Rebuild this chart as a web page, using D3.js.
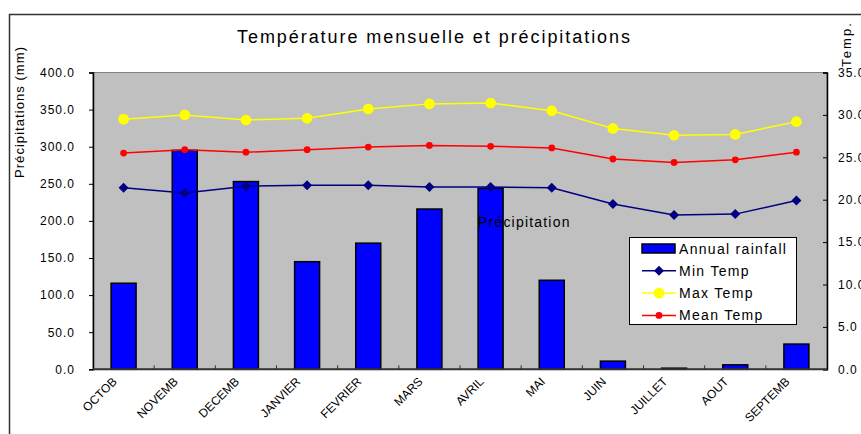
<!DOCTYPE html>
<html>
<head>
<meta charset="utf-8">
<title>Température mensuelle et précipitations</title>
<script src="https://d3js.org/d3.v7.min.js"></script>
<style>
  body { margin: 0; background: #fff; }
  svg { display: block; font-family: Arial, "Liberation Sans", sans-serif; }
</style>
</head>
<body>
<script>
// chart data
const months = ["OCTOB", "NOVEMB", "DECEMB", "JANVIER", "FEVRIER", "MARS",
                "AVRIL", "MAI", "JUIN", "JUILLET", "AOUT", "SEPTEMB"];
const rainfall = [116, 295, 253, 145, 170, 216, 244, 120, 11, 1.5, 6, 34];
const minTemp  = [21.4, 20.8, 21.6, 21.7, 21.7, 21.5, 21.5, 21.4, 19.5, 18.2, 18.3, 19.9];
const maxTemp  = [29.5, 30.0, 29.4, 29.6, 30.7, 31.3, 31.4, 30.5, 28.4, 27.6, 27.7, 29.2];
const meanTemp = [25.5, 25.9, 25.6, 25.9, 26.2, 26.4, 26.3, 26.1, 24.8, 24.4, 24.7, 25.6];
const rainTicks = [0, 50, 100, 150, 200, 250, 300, 350, 400];
const tempTicks = [0, 5, 10, 15, 20, 25, 30, 35];

const w = 861, h = 434;
const plotL = 93, plotR = 827, plotT = 72.5, plotB = 369.3;

const svg = d3.select("body").append("svg")
    .attr("width", w).attr("height", h);

// outer frame
svg.append("rect")
    .attr("x", 9.5).attr("y", 14.5)
    .attr("width", 1000).attr("height", 600)
    .attr("fill", "none").attr("stroke", "#333").attr("stroke-width", 1.5);

const x = d3.scaleBand().domain(months).range([plotL, plotR]);
const yRain = d3.scaleLinear().domain([0, 400]).range([plotB, plotT]);
const yTemp = d3.scaleLinear().domain([0, 35]).range([plotB, plotT]);

// plot area
svg.append("rect")
    .attr("x", plotL).attr("y", plotT)
    .attr("width", plotR - plotL).attr("height", plotB - plotT)
    .attr("fill", "#c0c0c0").attr("stroke", "#808080");

// left axis
const yAxisL = d3.axisLeft(yRain).tickValues(rainTicks)
    .tickSize(4).tickPadding(14).tickFormat(d3.format(".1f"));
svg.append("g").attr("transform", `translate(${plotL},0)`).call(yAxisL)
    .call(g => g.select(".domain").attr("stroke", "#000").attr("stroke-width", 1.5))
    .call(g => g.selectAll("text").attr("font-size", 12).attr("letter-spacing", 1)
        .attr("fill", "#000").attr("font-family", "Arial, 'Liberation Sans', sans-serif"));

// right axis, ticks pointing inward
const yAxisR = d3.axisRight(yTemp).tickValues(tempTicks)
    .tickSize(-4).tickPadding(11).tickFormat(d3.format(".1f"));
svg.append("g").attr("transform", `translate(${plotR},0)`).call(yAxisR)
    .call(g => g.select(".domain").attr("stroke", "#000").attr("stroke-width", 1.5))
    .call(g => g.selectAll("text").attr("font-size", 12).attr("letter-spacing", 1)
        .attr("fill", "#000").attr("font-family", "Arial, 'Liberation Sans', sans-serif"));

// bars
const bw = 25;
svg.selectAll(".bar")
    .data(rainfall)
    .enter().append("rect")
    .attr("class", "bar")
    .attr("x", (d, i) => x(months[i]) + x.bandwidth() / 2 - bw / 2)
    .attr("y", d => yRain(d))
    .attr("width", bw)
    .attr("height", d => plotB - yRain(d))
    .attr("fill", "#0000ff")
    .attr("stroke", "#000").attr("stroke-width", 1.5);

// x axis with inward ticks at band edges
const xg = svg.append("g");
xg.append("line")
    .attr("x1", plotL).attr("x2", plotR).attr("y1", plotB).attr("y2", plotB)
    .attr("stroke", "#333").attr("stroke-width", 2);
xg.selectAll(".xt")
    .data(months.slice(1))
    .enter().append("line")
    .attr("x1", d => x(d)).attr("x2", d => x(d))
    .attr("y1", plotB).attr("y2", plotB - 4)
    .attr("stroke", "#333");
xg.selectAll(".xl")
    .data(months)
    .enter().append("text")
    .attr("transform", d => `translate(${x(d) + x.bandwidth() / 2 - 6},${plotB + 13}) rotate(-45)`)
    .attr("text-anchor", "end")
    .attr("font-size", 12)
    .text(d => d);

// temperature lines
const cx = i => x(months[i]) + x.bandwidth() / 2;
const line = d3.line().x((d, i) => cx(i)).y(d => yTemp(d));

function drawSeries(data, color, shape, size, rot) {
    svg.append("path").datum(data)
        .attr("d", line).attr("fill", "none")
        .attr("stroke", color).attr("stroke-width", 1.5);
    svg.selectAll(null).data(data).enter().append("path")
        .attr("transform", (d, i) => `translate(${cx(i)},${yTemp(d)}) rotate(${rot})`)
        .attr("d", d3.symbol().type(shape).size(size))
        .attr("fill", color);
}
drawSeries(maxTemp, "#ffff00", d3.symbolCircle, 90, 0);
drawSeries(meanTemp, "#ff0000", d3.symbolCircle, 36, 0);
drawSeries(minTemp, "#000080", d3.symbolSquare, 50, 45);

// annotation inside plot
svg.append("text")
    .attr("x", 478).attr("y", 227)
    .attr("font-size", 14).attr("letter-spacing", 1.2)
    .text("Précipitation");

// legend
const legend = svg.append("g");
legend.append("rect")
    .attr("x", 629.5).attr("y", 237.5).attr("width", 167).attr("height", 87)
    .attr("fill", "#fff").attr("stroke", "#000");
const items = [
    { name: "Annual rainfall", color: "#0000ff", type: "bar" },
    { name: "Min Temp", color: "#000080", type: d3.symbolSquare, size: 50, rot: 45 },
    { name: "Max Temp", color: "#ffff00", type: d3.symbolCircle, size: 90, rot: 0 },
    { name: "Mean Temp", color: "#ff0000", type: d3.symbolCircle, size: 36, rot: 0 }
];
items.forEach((it, i) => {
    const ly = 248.5 + i * 22.3;
    if (it.type === "bar") {
        legend.append("rect")
            .attr("x", 642).attr("y", ly - 4.5).attr("width", 33).attr("height", 9)
            .attr("fill", it.color).attr("stroke", "#000").attr("stroke-width", 1.5);
    } else {
        legend.append("line")
            .attr("x1", 642).attr("x2", 676).attr("y1", ly).attr("y2", ly)
            .attr("stroke", it.color).attr("stroke-width", 1.5);
        legend.append("path")
            .attr("transform", `translate(659,${ly}) rotate(${it.rot})`)
            .attr("d", d3.symbol().type(it.type).size(it.size))
            .attr("fill", it.color);
    }
    legend.append("text")
        .attr("x", 679).attr("y", ly + 5)
        .attr("font-size", 14).attr("letter-spacing", 1.3)
        .text(it.name);
});

// titles
svg.append("text")
    .attr("x", 237).attr("y", 43)
    .attr("font-size", 18)
    .attr("textLength", 393).attr("lengthAdjust", "spacing")
    .text("Température mensuelle et précipitations");

svg.append("text")
    .attr("transform", "translate(24,178) rotate(-90)")
    .attr("font-size", 13)
    .attr("textLength", 131).attr("lengthAdjust", "spacing")
    .text("Précipitations (mm)");

svg.append("text")
    .attr("transform", "translate(851,67) rotate(-90)")
    .attr("font-size", 13)
    .attr("textLength", 44).attr("lengthAdjust", "spacing")
    .text("Temp.");
</script>
</body>
</html>
